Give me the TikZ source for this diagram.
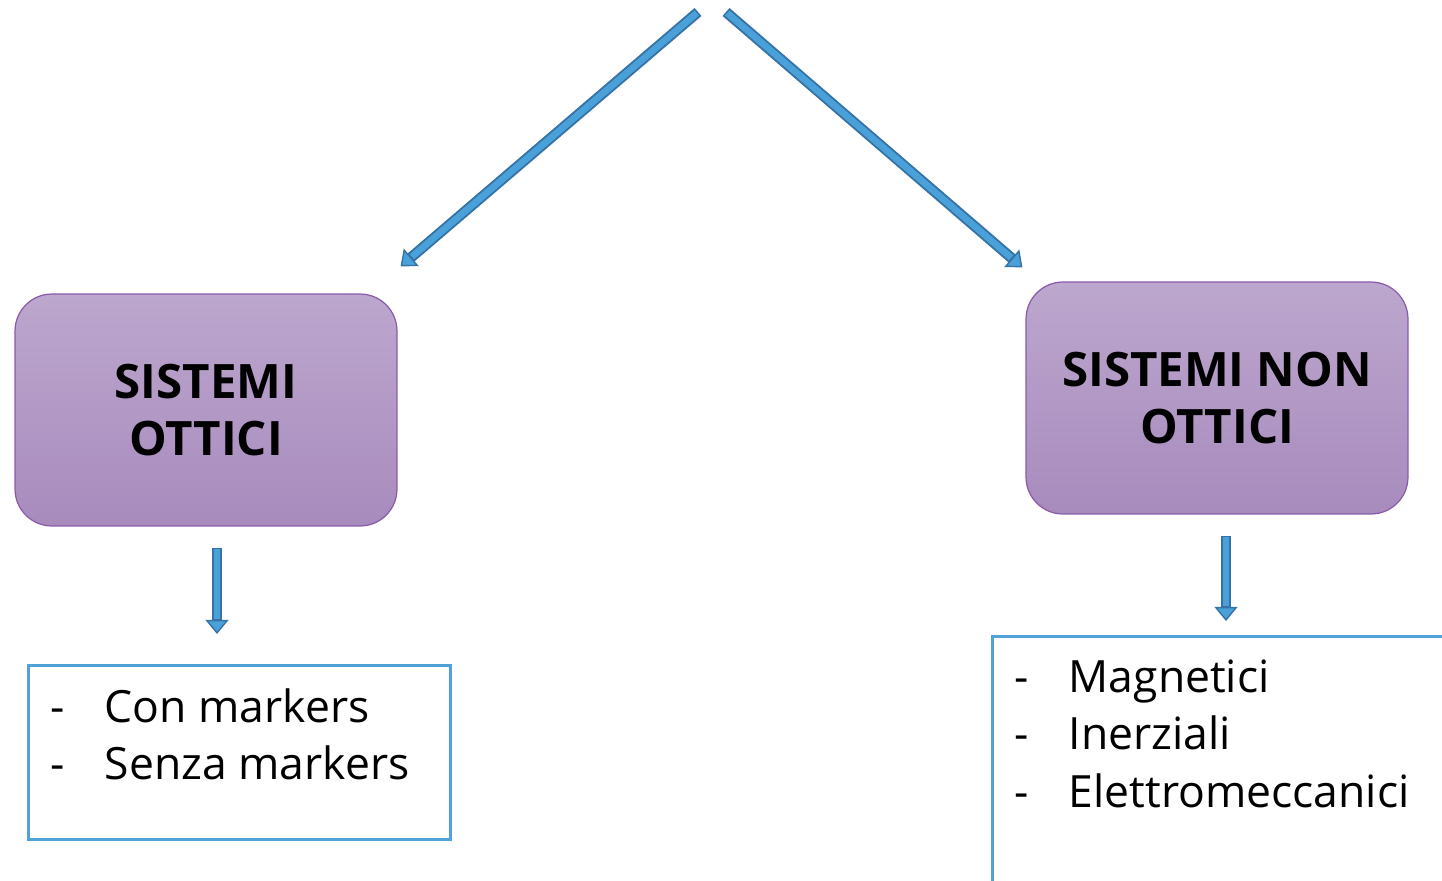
\documentclass[tikz,border=0pt]{standalone}
\usepackage{fontspec}
\setmainfont{Open Sans}
\usepackage{xcolor}
\usepackage{tikz}
\usetikzlibrary{arrows.meta, calc}
\definecolor{lilatop}{HTML}{BCA7CE}
\definecolor{lilabottom}{HTML}{A88BBD}
\definecolor{lilaedge}{HTML}{8B5BAA}
\definecolor{arrowfill}{HTML}{4AA0D9}
\definecolor{arrowedge}{HTML}{3573A6}
\definecolor{listedge}{HTML}{52A2DA}

\newcommand{\voce}[1]{\makebox[31pt][l]{-}#1}

\begin{document}
\begin{tikzpicture}[
    x=0.02cm, y=-0.02cm,
    sysbox/.style={rectangle, rounded corners=21pt, draw=lilaedge, line width=0.7pt,
                   top color=lilatop, bottom color=lilabottom, align=center,
                   minimum width=7.64cm, minimum height=4.64cm,
                   font=\fontsize{27}{32.4}\selectfont\bfseries},
    listbox/.style={rectangle, draw=listedge, line width=1.6pt, anchor=north west},
    listtext/.style={anchor=base west, inner sep=0pt, font=\fontsize{25.3}{33}\selectfont},
    blockarrow/.style={-{Triangle[length=8pt, width=13pt, fill=arrowfill, line width=0.8pt]},
                       line width=6pt, draw=arrowedge},
    arrowcore/.style={line width=3.8pt, draw=arrowfill, shorten <=0.9pt, shorten >=8.5pt}
  ]
    \clip (0,0) rectangle (1442,880);

    \node[sysbox] (ottici)    at (206,410)  {SISTEMI\\OTTICI};
    \node[sysbox] (nonottici) at (1217,398) {SISTEMI NON\\OTTICI};

    \node[listbox, minimum width=8.44cm, minimum height=3.48cm] (listaottici)    at (27,664) {};
    \node[listbox, minimum width=10cm,   minimum height=6cm]    (listanonottici) at (991,635) {};

    \node[listtext] (vociottici) at (50,722)
      {\begin{tabular}[t]{@{}l@{}}\voce{Con markers}\\\voce{Senza markers}\end{tabular}};
    \node[listtext] (vocinonottici) at (1014,692)
      {\begin{tabular}[t]{@{}l@{}}\voce{Magnetici}\\\voce{Inerziali}\\\voce{Elettromeccanici}\end{tabular}};

    % diagonal arrows from the top
    \coordinate (origineL) at (698,12);
    \coordinate (origineR) at (726,12);
    \coordinate (puntaL) at ($(ottici.north east)+(3,-27)$);
    \coordinate (puntaR) at ($(nonottici.north west)+(-3,-14)$);
    \foreach \a/\b in {origineL/puntaL, origineR/puntaR} {
      \draw[blockarrow] (\a) -- (\b);
      \draw[arrowcore]  (\a) -- (\b);
    }

    % down arrows
    \coordinate (giuL1) at ($(ottici.south)+(11,21)$);
    \coordinate (giuL2) at ($(giuL1 |- listaottici.north)+(0,-30)$);
    \coordinate (giuR1) at ($(nonottici.south)+(9,21)$);
    \coordinate (giuR2) at ($(giuR1 |- listanonottici.north)+(0,-14)$);
    \foreach \a/\b in {giuL1/giuL2, giuR1/giuR2} {
      \draw[blockarrow] (\a) -- (\b);
      \draw[arrowcore]  (\a) -- (\b);
    }
\end{tikzpicture}
\end{document}
